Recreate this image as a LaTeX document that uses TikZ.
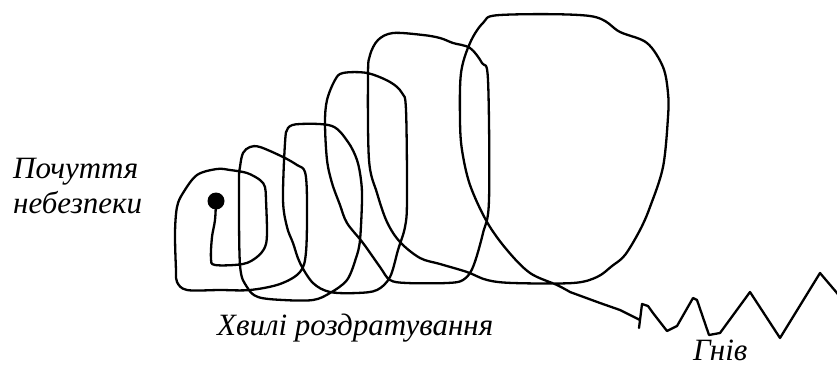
\documentclass[tikz,border=0pt]{standalone}
\usepackage{fontspec}
\setmainfont{Liberation Serif}
\tikzset{waves/.style={x=1pt,y=-1pt,line width=2.3pt,line join=round,line cap=round},
  lbl/.style={font=\itshape\fontsize{31}{33}\selectfont,inner sep=0pt}}

\begin{document}
\begin{tikzpicture}[waves]
    \useasboundingbox (0,0) rectangle (837,367);
    \node[circle,fill,minimum size=17pt,inner sep=0pt] (start) at (216,201) {};
    % the growing loops, then the zigzag
    \draw plot[smooth,tension=0.55] coordinates {(start.center) (215,220) (212,237) (211,258) (215,265) (243,264) (257,257) (265,247) (267,233) (266,200) (265,187) (260,180) (247,173) (230,170) (217,169) (197,175) (183,193) (177,207) (175,233) (176,270) (177,282) (187,290)
      (220,290) (250,290) (280,284) (300,272) (306,252) (307,200) (305,172) (297,165) (283,157) (260,147) (250,147) (243,153) (240,167) (239,183) (240,265) (247,287) (258,297) (283,300)
      (313,300) (330,293) (347,280) (356,258) (360,240) (362,200) (361,180) (357,160) (348,142) (332,126) (300,124) (288,128) (285,143) (283,200) (287,227) (293,243) (300,263) (313,283) (330,292) (357,293)
      (377,290) (390,277) (398,250) (405,227) (407,200) (406,110) (402,93) (390,82) (367,73) (343,73) (335,80) (327,100) (325,123) (327,160) (332,183) (340,205) (347,223) (363,243) (380,267) (390,280) (407,283)
      (447,283) (463,280) (473,267) (483,233) (489,200) (488,80) (482,63) (470,48) (453,43) (440,38) (423,35) (393,33) (378,40) (370,55) (368,75) (369,160) (377,193) (387,222) (400,242) (420,258) (440,264) (467,272) (487,280) (513,283)
      (573,283) (597,277) (612,266) (625,255) (640,230) (650,207) (663,167) (668,117) (668,93) (663,67) (647,43) (620,32) (590,16) (500,15) (483,23) (470,43) (461,73) (460,120) (462,150) (470,185) (487,222) (507,250) (530,273) (557,285) (570,292)}
      -- (600,303) -- (620,310) -- (640,320) -- (639,328) -- (642,304) -- (648,306) -- (653,313) -- (667,331) -- (677,326) -- (693,298) -- (697,300)
      -- (709,335) -- (720,333) -- (750,292) -- (780,338) -- (820,273) -- (837,293) -- (845,305);
    \node[lbl,anchor=base west] (feel) at (12,178) {Почуття};
    \node[lbl,anchor=base west] (danger) at (12,213) {небезпеки};
    \node[lbl,anchor=base west] (irrit) at (216,335) {Хвилі роздратування};
    \node[lbl,anchor=base west] (anger) at (692,360) {Гнів};
\end{tikzpicture}
\end{document}
